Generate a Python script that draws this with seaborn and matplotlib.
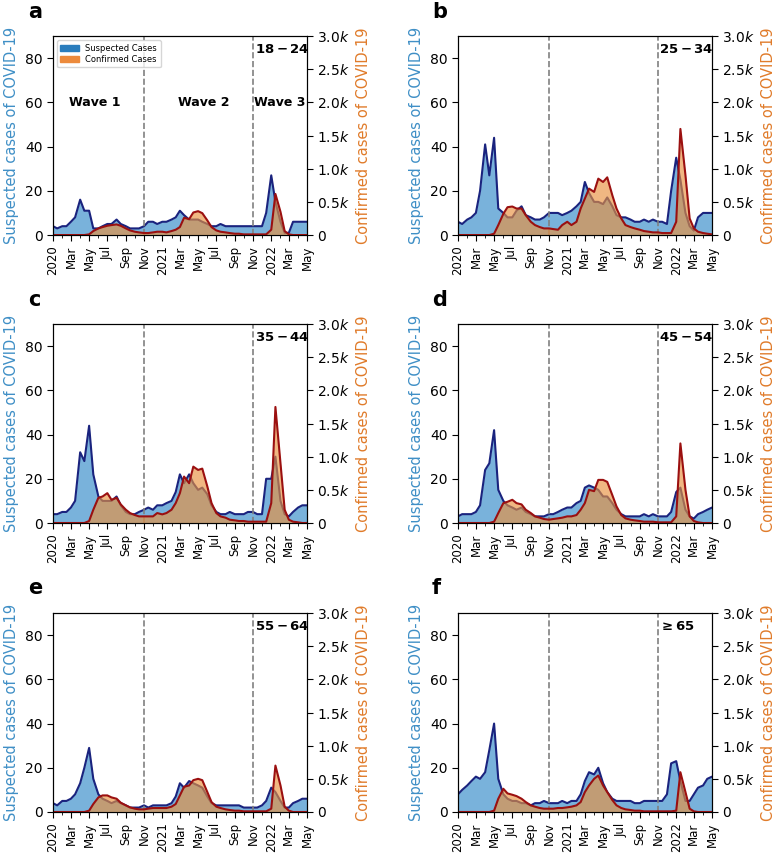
import matplotlib
matplotlib.use("Agg")
import matplotlib.pyplot as plt
import matplotlib.dates as mdates
import matplotlib.ticker as mticker
from matplotlib.patches import Patch
import pandas as pd
import numpy as np
import seaborn as sns

# semi-monthly sampling points (1st and 15th of each month), Jan 2020 -> May 2022
dates = pd.date_range("2020-01-01", "2022-05-01", freq="SMS")

age_groups = ["18-24", "25-34", "35-44", "45-54", "55-64", "65+"]
age_labels = [r"$\mathbf{18-24}$", r"$\mathbf{25-34}$", r"$\mathbf{35-44}$",
              r"$\mathbf{45-54}$", r"$\mathbf{55-64}$", r"$\mathbf{\geq 65}$"]
panel_letters = ["a", "b", "c", "d", "e", "f"]

# suspected cases (left axis), smoothed
susp_18_24 = [4, 3, 4, 4, 6, 8, 16, 11, 11, 3, 3, 4, 5, 5, 7, 5, 4, 3, 3, 3, 4, 6, 6, 5,
              6, 6, 7, 8, 11, 9, 7, 7, 7, 6, 5, 4, 4, 5, 4, 4, 4, 4, 4, 4, 4, 4, 4, 10,
              27, 15, 6, 1, 1, 6, 6, 6, 6]
susp_25_34 = [6, 5, 7, 8, 10, 20, 41, 27, 44, 12, 10, 8, 8, 11, 13, 9, 8, 7, 7, 8, 10, 10, 10, 9,
              10, 11, 13, 15, 24, 19, 15, 15, 14, 17, 13, 9, 8, 8, 7, 6, 6, 7, 6, 7, 6, 6, 5, 20,
              35, 25, 10, 4, 2, 8, 10, 10, 10]
susp_35_44 = [4, 4, 5, 5, 7, 10, 32, 28, 44, 22, 12, 10, 10, 10, 12, 8, 5, 4, 4, 5, 6, 7, 6, 8,
              8, 9, 10, 14, 22, 18, 22, 18, 15, 16, 13, 8, 5, 4, 4, 5, 4, 4, 4, 5, 5, 4, 4, 20,
              20, 30, 10, 4, 3, 5, 7, 8, 8]
susp_45_54 = [3, 4, 4, 4, 5, 8, 24, 27, 42, 15, 10, 8, 7, 6, 7, 5, 4, 3, 3, 3, 4, 4, 5, 6,
              7, 7, 9, 10, 16, 17, 16, 15, 12, 12, 9, 6, 4, 3, 3, 3, 3, 4, 3, 4, 3, 3, 3, 5,
              14, 16, 6, 3, 2, 4, 5, 6, 7]
susp_55_64 = [4, 3, 5, 5, 6, 8, 13, 20, 29, 15, 8, 6, 5, 4, 5, 4, 3, 2, 2, 2, 3, 2, 3, 3,
              3, 3, 4, 7, 13, 11, 14, 13, 12, 11, 7, 4, 3, 3, 3, 3, 3, 3, 2, 2, 2, 2, 3, 5,
              11, 9, 5, 2, 2, 4, 5, 6, 6]
susp_65 = [8, 10, 12, 14, 16, 15, 18, 28, 40, 15, 8, 6, 5, 5, 4, 4, 3, 4, 4, 5, 4, 4, 4, 5,
           4, 5, 5, 8, 14, 18, 17, 20, 13, 9, 6, 5, 5, 5, 5, 4, 4, 5, 5, 5, 5, 5, 8, 22,
           23, 14, 5, 5, 8, 11, 12, 15, 16]

# confirmed cases (right axis), in thousands, smoothed
conf_18_24 = [0, 0, 0, 0, 0, 0, 0, 0, 0.01, 0.06, 0.10, 0.12, 0.14, 0.15, 0.16, 0.14, 0.10, 0.07,
              0.05, 0.04, 0.03, 0.03, 0.04, 0.05,
              0.05, 0.04, 0.06, 0.08, 0.12, 0.26, 0.24, 0.34, 0.36, 0.33, 0.22, 0.12, 0.07, 0.05,
              0.04, 0.03, 0.02, 0.02, 0.01, 0.01, 0.01, 0.01, 0.01, 0.01,
              0.08, 0.62, 0.35, 0.06, 0.01, 0, 0, 0, 0]
conf_25_34 = [0, 0, 0, 0, 0, 0, 0, 0, 0.02, 0.15, 0.32, 0.42, 0.43, 0.40, 0.40, 0.30, 0.20, 0.15,
              0.12, 0.10, 0.10, 0.09, 0.08, 0.15,
              0.20, 0.15, 0.20, 0.40, 0.55, 0.70, 0.65, 0.85, 0.80, 0.87, 0.60, 0.40, 0.25, 0.15,
              0.12, 0.10, 0.08, 0.06, 0.05, 0.04, 0.04, 0.03, 0.03, 0.03,
              0.20, 1.60, 0.90, 0.25, 0.10, 0.05, 0.03, 0.02, 0.01]
conf_35_44 = [0, 0, 0, 0, 0, 0, 0, 0, 0.03, 0.20, 0.38, 0.40, 0.45, 0.35, 0.38, 0.28, 0.20, 0.15,
              0.12, 0.10, 0.10, 0.10, 0.10, 0.15,
              0.13, 0.15, 0.20, 0.30, 0.45, 0.70, 0.60, 0.85, 0.80, 0.82, 0.55, 0.30, 0.15, 0.10,
              0.08, 0.05, 0.04, 0.03, 0.03, 0.02, 0.02, 0.02, 0.02, 0.02,
              0.30, 1.75, 0.90, 0.20, 0.05, 0.02, 0.01, 0, 0]
conf_45_54 = [0, 0, 0, 0, 0, 0, 0, 0, 0.02, 0.15, 0.30, 0.32, 0.35, 0.30, 0.28, 0.20, 0.15, 0.10,
              0.08, 0.06, 0.05, 0.06, 0.07, 0.08,
              0.10, 0.10, 0.12, 0.20, 0.30, 0.50, 0.48, 0.65, 0.65, 0.62, 0.42, 0.25, 0.12, 0.07,
              0.05, 0.04, 0.03, 0.02, 0.02, 0.02, 0.01, 0.01, 0.01, 0.01,
              0.10, 1.20, 0.50, 0.10, 0.03, 0.01, 0, 0, 0]
conf_55_64 = [0, 0, 0, 0, 0, 0, 0, 0, 0.02, 0.12, 0.22, 0.25, 0.25, 0.22, 0.20, 0.14, 0.10, 0.07,
              0.05, 0.04, 0.04, 0.05, 0.06, 0.06,
              0.06, 0.06, 0.08, 0.12, 0.25, 0.38, 0.40, 0.48, 0.50, 0.48, 0.30, 0.15, 0.08, 0.06,
              0.04, 0.03, 0.02, 0.02, 0.01, 0.01, 0.01, 0.01, 0.01, 0.01,
              0.05, 0.70, 0.40, 0.08, 0.02, 0, 0, 0, 0]
conf_65 = [0, 0, 0, 0, 0, 0, 0, 0, 0.02, 0.20, 0.35, 0.28, 0.26, 0.24, 0.20, 0.15, 0.10, 0.08,
           0.06, 0.05, 0.05, 0.05, 0.06, 0.06,
           0.07, 0.08, 0.10, 0.15, 0.30, 0.40, 0.50, 0.55, 0.40, 0.30, 0.18, 0.10, 0.06, 0.04,
           0.03, 0.02, 0.02, 0.01, 0.01, 0.01, 0.01, 0.01, 0.01, 0.01,
           0.02, 0.60, 0.30, 0.05, 0.01, 0, 0, 0, 0]

suspected = [susp_18_24, susp_25_34, susp_35_44, susp_45_54, susp_55_64, susp_65]
confirmed = [conf_18_24, conf_25_34, conf_35_44, conf_45_54, conf_55_64, conf_65]

wave_breaks = [pd.Timestamp("2020-11-01"), pd.Timestamp("2021-11-01")]

SUSP_FILL = "#6aaad8"
CONF_FILL = "#e8913f"
SUSP_LINE = "#1a237e"
CONF_LINE = "#9b1010"
SUSP_LABEL = "#3f8fc6"
CONF_LABEL = "#e07b2a"

sns.set_style("ticks")
plt.rcParams["font.family"] = ["DejaVu Sans"]
plt.rcParams["text.color"] = "black"
plt.rcParams["axes.edgecolor"] = "black"
plt.rcParams["xtick.color"] = "black"
plt.rcParams["ytick.color"] = "black"

fig = plt.figure(figsize=(7.77, 8.55), dpi=100)

lefts = [0.0682, 0.5894]
bottoms = [0.7251, 0.3883, 0.0503]
w, h = 0.327, 0.2327


def date_fmt(x, pos):
    d = mdates.num2date(x)
    if d.month == 1:
        return str(d.year)
    return d.strftime("%b")


def k_fmt(v, pos):
    if abs(v) < 1e-9:
        return "0"
    return r"$%.1fk$" % v


for i in range(6):
    row, col = divmod(i, 2)
    ax = fig.add_axes([lefts[col], bottoms[row], w, h])
    df = pd.DataFrame({"date": dates, "suspected": suspected[i], "confirmed": confirmed[i]})

    ax.fill_between(df["date"], 0, df["suspected"], color=SUSP_FILL, alpha=0.9, lw=0)
    sns.lineplot(data=df, x="date", y="suspected", ax=ax, color=SUSP_LINE, lw=1.5)
    for b in wave_breaks:
        ax.axvline(b, color="gray", ls="--", lw=1.2)
    ax.set_ylim(0, 90)
    ax.set_yticks([0, 20, 40, 60, 80])
    ax.set_xlim(pd.Timestamp("2020-01-01"), pd.Timestamp("2022-05-01"))
    ax.set_ylabel("Suspected cases of COVID-19", color=SUSP_LABEL, fontsize=10.5)
    ax.set_xlabel("")
    ax.xaxis.set_major_locator(mdates.MonthLocator(bymonth=[1, 3, 5, 7, 9, 11]))
    ax.xaxis.set_minor_locator(mdates.MonthLocator())
    ax.xaxis.set_major_formatter(mticker.FuncFormatter(date_fmt))
    ax.tick_params(axis="x", which="major", labelsize=8.5, rotation=90, length=4)
    ax.tick_params(axis="x", which="minor", length=2.5)
    ax.tick_params(axis="y", labelsize=10, length=4)

    ax2 = ax.twinx()
    ax2.fill_between(df["date"], 0, df["confirmed"], color=CONF_FILL, alpha=0.65, lw=0)
    sns.lineplot(data=df, x="date", y="confirmed", ax=ax2, color=CONF_LINE, lw=1.5)
    ax2.set_ylim(0, 3)
    ax2.set_yticks([0, 0.5, 1.0, 1.5, 2.0, 2.5, 3.0])
    ax2.yaxis.set_major_formatter(mticker.FuncFormatter(k_fmt))
    ax2.set_ylabel("Confirmed cases of COVID-19", color=CONF_LABEL, fontsize=10.5)
    ax2.tick_params(axis="y", labelsize=10, length=4)
    ax2.set_xlim(pd.Timestamp("2020-01-01"), pd.Timestamp("2022-05-01"))
    ax2.set_xlabel("")

    ax2.text(pd.Timestamp("2021-11-06"), 2.8, age_labels[i], fontsize=9.5,
             fontweight="bold", ha="left", va="center")

    if i == 0:
        ax2.text(pd.Timestamp("2020-05-20"), 2.0, "Wave 1", fontsize=9,
                 fontweight="bold", ha="center", va="center")
        ax2.text(pd.Timestamp("2021-05-20"), 2.0, "Wave 2", fontsize=9,
                 fontweight="bold", ha="center", va="center")
        ax2.text(pd.Timestamp("2021-11-05"), 2.0, "Wave 3", fontsize=9,
                 fontweight="bold", ha="left", va="center")
        handles = [Patch(color="#2a7dbd", label="Suspected Cases"),
                   Patch(color="#ec8a3c", label="Confirmed Cases")]
        ax2.legend(handles=handles, loc="upper left", fontsize=6,
                   handlelength=2.2, borderpad=0.4, labelspacing=0.3)

    fx = 0.036 if col == 0 else 0.556
    fy = [0.986, 0.649, 0.312][row]
    fig.text(fx, fy, panel_letters[i], fontsize=15, fontweight="bold", va="center")

fig.savefig("out.png", dpi=100)
